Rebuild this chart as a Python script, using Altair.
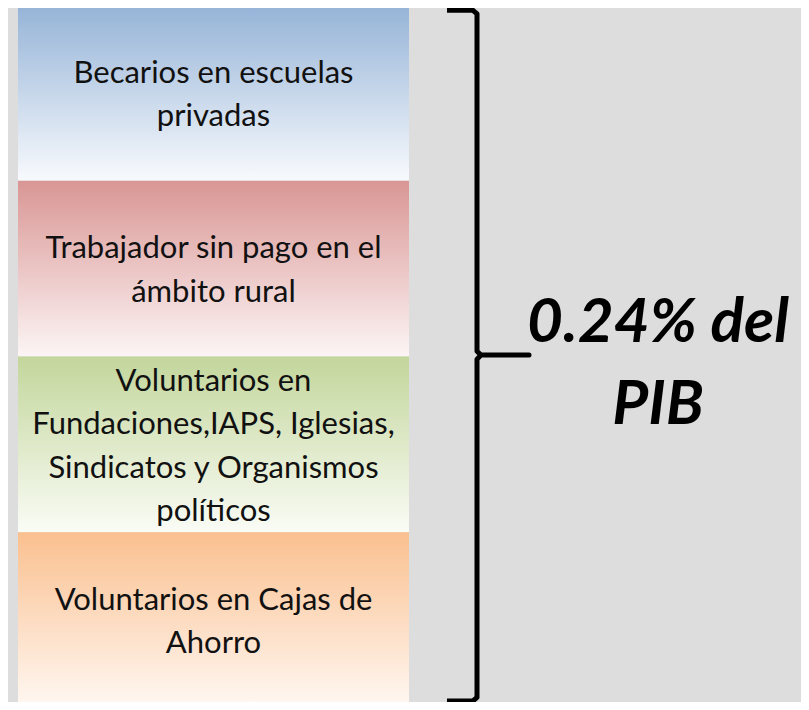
import altair as alt
import pandas as pd

# --- data -------------------------------------------------------------
categories = [
    "Becarios en escuelas\nprivadas",
    "Trabajador sin pago en el\námbito rural",
    "Voluntarios en\nFundaciones,IAPS, Iglesias,\nSindicatos y Organismos\npolíticos",
    "Voluntarios en Cajas de\nAhorro",
]
shares = [1, 1, 1, 1]
top_colors = ["#95b3d7", "#d99694", "#c3d69b", "#fac08f"]
bottom_colors = ["#f8fafd", "#fcf5f5", "#fafcf6", "#fff8f3"]
total_label = "0.24% del\nPIB"

# --- layout helpers -----------------------------------------------------
W, H = 793, 694
PX_PER_UNIT = 175.75          # pixel height of one share unit
LABEL_LH = 43.5               # line height of box labels (px)
LABEL_SHIFT = 2.5             # small downward nudge of labels (px)
BIG_LH = 82                   # line height of the big annotation (px)

# --- table built from the arrays --------------------------------------
rows = []
acc = 0
for i, (cat, s) in enumerate(zip(categories, shares)):
    n = cat.count("\n") + 1
    mid = acc + s / 2
    rows.append({
        "idx": i, "label": cat, "y0": acc, "y1": acc + s,
        "ty": mid + (LABEL_SHIFT - (n - 1) / 2 * LABEL_LH) / PX_PER_UNIT,
    })
    acc += s
df = pd.DataFrame(rows)
total = acc

# brace path (x in page px, y in share units)
mid = total / 2
brace = pd.DataFrame({
    "order": list(range(11)),
    "bx": [447, 473, 477, 477, 481, 529, 481, 477, 477, 473, 447],
    "by": [0.03, 0.03, 0.05, mid - 0.03, mid - 0.008, mid - 0.008,
           mid - 0.008, mid + 0.015, total - 0.06, total - 0.04, total - 0.04],
})
n_big = total_label.count("\n") + 1
ann = pd.DataFrame({
    "text": [total_label],
    "ty": [mid + 0.04 - (n_big - 1) / 2 * BIG_LH / PX_PER_UNIT],
    "tx": [658],
})

xs = alt.Scale(domain=[8, 801], zero=False, nice=False)
ys = alt.Scale(domain=[3 / PX_PER_UNIT, 697 / PX_PER_UNIT], reverse=True, zero=False, nice=False)

layers = []
for i in range(len(categories)):
    grad = alt.Gradient(
        gradient="linear",
        stops=[alt.GradientStop(color=top_colors[i], offset=0),
               alt.GradientStop(color=bottom_colors[i], offset=1)],
        x1=0, x2=0, y1=0, y2=1,
    )
    layers.append(
        alt.Chart(df).transform_filter(alt.datum.idx == i).mark_rect(fill=grad).encode(
            x=alt.value(10), x2=alt.value(401),
            y=alt.Y("y0:Q", scale=ys, axis=None), y2="y1:Q",
        )
    )

labels = alt.Chart(df).mark_text(
    font="Lato", fontSize=31, lineBreak="\n", lineHeight=LABEL_LH,
    align="center", baseline="middle", color="#111111",
).encode(
    x=alt.value(205.5),
    y=alt.Y("ty:Q", scale=ys, axis=None),
    text="label:N",
)

brace_line = alt.Chart(brace).mark_line(
    color="#000000", strokeWidth=5, strokeJoin="round", strokeCap="butt"
).encode(
    x=alt.X("bx:Q", scale=xs, axis=None),
    y=alt.Y("by:Q", scale=ys, axis=None),
    order="order:Q",
)

big = alt.Chart(ann).mark_text(
    font="Lato", fontSize=62, fontWeight="bold", fontStyle="italic",
    lineBreak="\n", lineHeight=BIG_LH, align="center", baseline="middle", color="#000000",
).encode(
    x=alt.X("tx:Q", scale=xs, axis=None),
    y=alt.Y("ty:Q", scale=ys, axis=None),
    text="text:N",
)

chart = alt.layer(*layers, labels, brace_line, big).properties(
    width=W, height=H, padding=0,
    autosize=alt.AutoSizeParams(type="none"),
    background="#dddddd",
).configure_view(stroke=None)

chart.save("out.html", embed_options={"renderer": "svg", "actions": False})
